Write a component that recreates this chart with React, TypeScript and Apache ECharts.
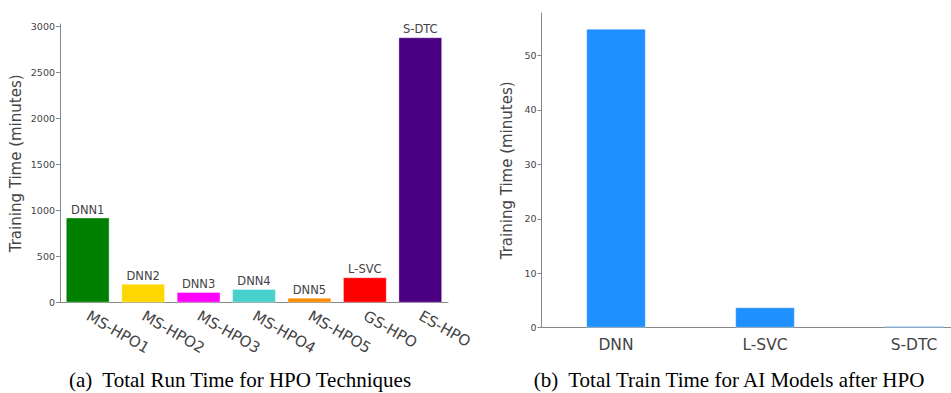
import React, { useEffect, useRef } from "react";
import * as echarts from "echarts";

const hpoCategories = ["MS-HPO1", "MS-HPO2", "MS-HPO3", "MS-HPO4", "MS-HPO5", "GS-HPO", "ES-HPO"];
const hpoModels = ["DNN1", "DNN2", "DNN3", "DNN4", "DNN5", "L-SVC", "S-DTC"];
const hpoTimes = [924, 206, 116, 149, 54, 276, 2880];
const hpoColors = ["#008000", "#FFD700", "#FF00FF", "#48D1CC", "#FF8C00", "#FF0000", "#4B0082"];
const leftTicks = [0, 500, 1000, 1500, 2000, 2500, 3000];

const modelCategories = ["DNN", "L-SVC", "S-DTC"];
const modelTimes = [54.9, 3.75, 0.3];
const rightTicks = [0, 10, 20, 30, 40, 50];

const FONT = "DejaVu Sans";
const TXT = "#444";
const AXIS = "#888";

export default function App() {
  const ref = useRef<HTMLDivElement>(null);
  useEffect(() => {
    const chart = echarts.init(ref.current!, undefined, { renderer: "svg" });
    chart.setOption({
      animation: false,
      backgroundColor: "#fff",
      grid: [
        { left: 60, top: 24, width: 388, bottom: 90.3 },
        { left: 541.5, top: 13, width: 447, bottom: 65.3 },
      ],
      xAxis: [
        {
          type: "category",
          gridIndex: 0,
          data: hpoCategories,
          axisLine: { lineStyle: { color: AXIS, width: 1 } },
          axisTick: { alignWithLabel: true, length: 4, lineStyle: { color: AXIS } },
          axisLabel: { rotate: -30, fontSize: 15, fontFamily: FONT, color: TXT, margin: 12 },
        },
        {
          type: "category",
          gridIndex: 1,
          data: modelCategories,
          axisLine: { lineStyle: { color: AXIS, width: 1 } },
          axisTick: { alignWithLabel: true, length: 4, lineStyle: { color: AXIS } },
          axisLabel: { fontSize: 15.5, fontFamily: FONT, color: TXT, margin: 9 },
        },
      ],
      yAxis: [
        {
          type: "value",
          gridIndex: 0,
          min: 0,
          max: 3024,
          splitLine: { show: false },
          axisLine: { show: true, lineStyle: { color: AXIS } },
          axisTick: { show: true, length: 4, lineStyle: { color: AXIS }, customValues: leftTicks },
          axisLabel: {
            fontSize: 9.5,
            fontFamily: FONT,
            color: TXT,
            margin: 5,
            customValues: leftTicks,
            formatter: (v: number) => String(v),
          },
          name: "Training Time (minutes)",
          nameLocation: "middle",
          nameGap: 37,
          nameTextStyle: { fontSize: 15, fontFamily: FONT, color: TXT },
        },
        {
          type: "value",
          gridIndex: 1,
          min: 0,
          max: 57.8,
          splitLine: { show: false },
          axisLine: { show: true, lineStyle: { color: AXIS } },
          axisTick: { show: true, length: 4, lineStyle: { color: AXIS }, customValues: rightTicks },
          axisLabel: {
            fontSize: 9.5,
            fontFamily: FONT,
            color: TXT,
            margin: 5,
            customValues: rightTicks,
            formatter: (v: number) => String(v),
          },
          name: "Training Time (minutes)",
          nameLocation: "middle",
          nameGap: 27,
          nameTextStyle: { fontSize: 15, fontFamily: FONT, color: TXT },
        },
      ],
      series: [
        {
          type: "bar",
          xAxisIndex: 0,
          yAxisIndex: 0,
          barWidth: "79%",
          data: hpoTimes.map((v, i) => ({
            value: v,
            itemStyle: { color: hpoColors[i] },
            label: { formatter: hpoModels[i] },
          })),
          itemStyle: { borderColor: "rgba(255,255,255,0.35)", borderWidth: 1 },
          label: { show: true, position: "top", distance: 2, fontSize: 11.5, fontFamily: FONT, color: TXT },
        },
        {
          type: "bar",
          xAxisIndex: 1,
          yAxisIndex: 1,
          barWidth: "40%",
          data: modelTimes,
          itemStyle: { color: "#1E90FF", borderColor: "rgba(255,255,255,0.35)", borderWidth: 1 },
        },
      ],
      graphic: [
        {
          type: "text",
          x: 240,
          y: 380,
          style: {
            text: "(a)  Total Run Time for HPO Techniques",
            font: '21px "Liberation Serif"',
            fill: "#000",
            align: "center",
            verticalAlign: "middle",
          },
        },
        {
          type: "text",
          x: 729,
          y: 380,
          style: {
            text: "(b)  Total Train Time for AI Models after HPO",
            font: '21px "Liberation Serif"',
            fill: "#000",
            align: "center",
            verticalAlign: "middle",
          },
        },
      ],
    });
    return () => chart.dispose();
  }, []);
  return (
    <div style={{ position: "fixed", left: 0, top: 0, width: 951, height: 393, overflow: "hidden" }}>
      <div ref={ref} style={{ width: 1000, height: 393 }} />
    </div>
  );
}
